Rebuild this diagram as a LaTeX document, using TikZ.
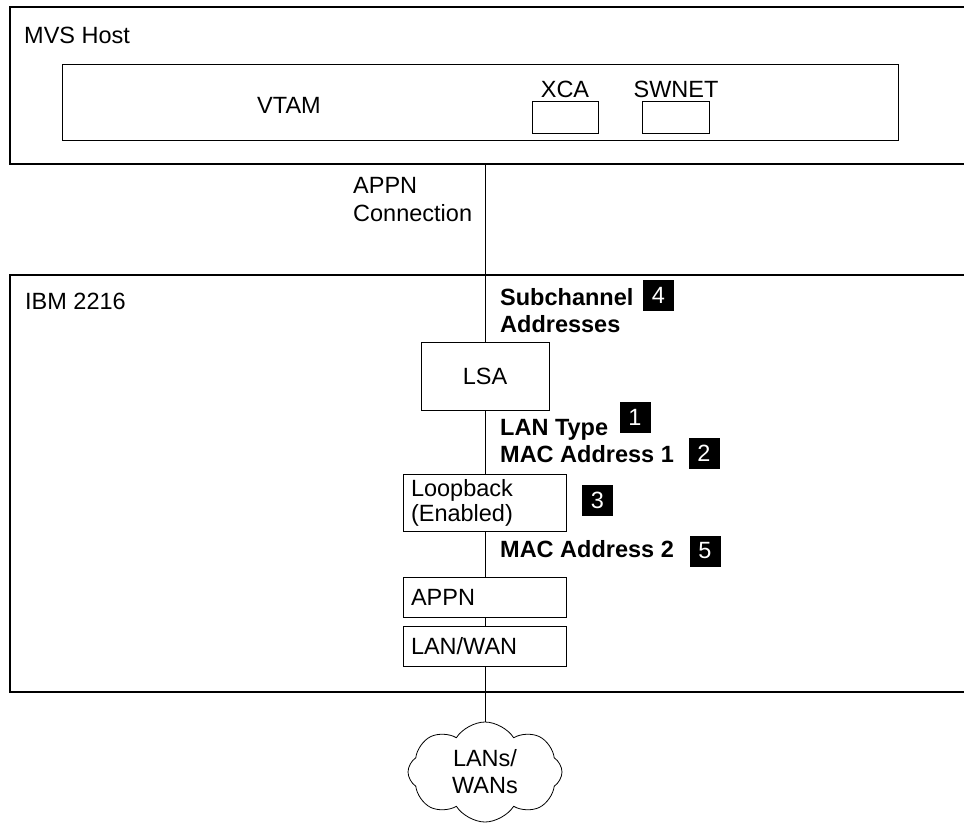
\documentclass[tikz,border=0pt]{standalone}
\usepackage{fontspec}
\setmainfont{Liberation Sans}
\usetikzlibrary{shapes.symbols}
\begin{document}
\begin{tikzpicture}[x=1pt,y=-1pt,
  every node/.style={font=\fontsize{23.5}{27}\selectfont},
  outer/.style={line width=1.1pt},
  box/.style={draw,line width=0.8pt,inner sep=0pt},
  lbl/.style={anchor=base west,inner sep=0pt},
  blbl/.style={anchor=base west,inner sep=0pt,font=\fontsize{23.5}{27}\selectfont\bfseries},
  badge/.style={fill=black,text=white,minimum size=31pt,inner sep=0pt},
  conn/.style={line width=0.8pt}]
\useasboundingbox (0,0) rectangle (964,825);
% MVS host
\draw[outer] (975,7) -- (10,7) -- (10,164) -- (975,164);
\coordinate (hostbot) at (485,164);
\node[lbl] (mvs) at (24,43) {MVS Host};
\node[box,minimum width=836pt,minimum height=76pt] (vtambox) at (480,102) {};
\node[anchor=base,inner sep=0pt] (vtam) at (289,113) {VTAM};
\node[anchor=base,inner sep=0pt] (xcat) at (565,97) {XCA};
\node[box,minimum width=66pt,minimum height=32pt] (xca) at (565,117) {};
\node[anchor=base,inner sep=0pt] (swnett) at (676,97) {SWNET};
\node[box,minimum width=67pt,minimum height=32pt] (swnet) at (675.5,117) {};
% APPN connection
\node[lbl] (appnc1) at (353,193) {APPN};
\node[lbl] (appnc2) at (353,221) {Connection};
% IBM 2216
\draw[outer] (975,275) -- (10,275) -- (10,692) -- (975,692);
\node[lbl] (ibm) at (25,309) {IBM 2216};
\node[box,minimum width=128pt,minimum height=68pt] (lsa) at (485,376) {LSA};
\node[box,minimum width=163pt,minimum height=57pt,text width=147pt,align=left,inner xsep=8pt,
  font=\fontsize{23.5}{25}\selectfont] (loop) at (484.5,502.5) {Loopback\\(Enabled)};
\node[box,minimum width=163pt,minimum height=40pt,text width=147pt,align=left,inner xsep=8pt] (appn) at (484.5,597) {APPN};
\node[box,minimum width=163pt,minimum height=40pt,text width=147pt,align=left,inner xsep=8pt] (lanwan) at (484.5,646) {LAN/WAN};
\node[cloud,draw,line width=0.8pt,cloud puffs=8,cloud puff arc=115,aspect=1.5,
  minimum width=154pt,minimum height=100pt,inner sep=0pt,align=center] (cloud) at (485,772) {LANs/\\WANs};
% labels
\node[blbl] (sub1) at (500,305) {Subchannel};
\node[blbl] (sub2) at (500,332) {Addresses};
\node[badge] (b4) at (658.5,295) {4};
\node[blbl] (lant) at (500,435) {LAN Type};
\node[badge] (b1) at (635,417.5) {1};
\node[blbl] (mac1) at (500,462) {MAC Address 1};
\node[badge] (b2) at (704,453.5) {2};
\node[badge] (b3) at (597.5,500) {3};
\node[blbl] (mac2) at (500,557) {MAC Address 2};
\node[badge] (b5) at (705,551) {5};
% connectors
\draw[conn] (hostbot) -- (lsa.north);
\draw[conn] (lsa.south) -- (lsa.south |- loop.north);
\draw[conn] (lsa.south |- loop.south) -- (lsa.south |- appn.north);
\draw[conn] (lsa.south |- appn.south) -- (lsa.south |- lanwan.north);
\draw[conn] (lsa.south |- lanwan.south) -- (cloud.north);
\end{tikzpicture}
\end{document}
